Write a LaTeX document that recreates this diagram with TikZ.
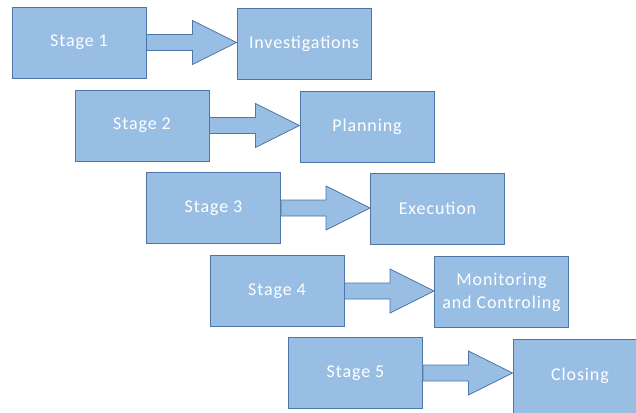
\documentclass[tikz,border=0pt]{standalone}
\usepackage{fontspec}
\setmainfont{Carlito}[LetterSpace=5]
\usetikzlibrary{calc}
\definecolor{boxfill}{RGB}{152,190,228}
\definecolor{boxline}{RGB}{78,118,168}
\tikzset{
  stagebox/.style={draw=boxline, fill=boxfill, line width=0.9pt,
    minimum width=134pt, minimum height=71pt, inner sep=0pt,
    text=white, font=\fontsize{18}{23}\selectfont, align=center},
  blockarrow/.style={draw=boxline, fill=boxfill, line width=0.8pt, line join=miter}
}
% block arrow from the right side of #1 to the left side of #2
\newcommand{\blockarrow}[2]{%
  \path[blockarrow] let \p1=(#1.east), \p2=(#2.west) in
    (\x1,\y1+8pt) -- (\x2-44pt,\y1+8pt) -- (\x2-44pt,\y1+22pt) --
    (\x2,\y1) -- (\x2-44pt,\y1-22pt) -- (\x2-44pt,\y1-8pt) --
    (\x1,\y1-8pt) -- cycle;}
\begin{document}
\begin{tikzpicture}[x=1pt,y=-1pt]
  \useasboundingbox (0,0) rectangle (636,412);
  \clip (0,0) rectangle (636,412);
  \fill[white] (0,0) rectangle (636,412);
  \node[stagebox] (s1) at (79,42.5) {Stage 1};
  \node[stagebox] (t1) at (304,44) {Investigations};
  \node[stagebox] (s2) at (142,125.5) {Stage 2};
  \node[stagebox] (t2) at (367,127) {Planning};
  \node[stagebox] (s3) at (213.5,208) {Stage 3};
  \node[stagebox] (t3) at (437.5,208.5) {Execution};
  \node[stagebox] (s4) at (277,291) {Stage 4};
  \node[stagebox] (t4) at (501.5,292) {Monitoring\\and Controling};
  \node[stagebox] (s5) at (355.5,373) {Stage 5};
  \node[stagebox, minimum height=74pt] (t5) at (580,376) {Closing};
  \blockarrow{s1}{t1}
  \blockarrow{s2}{t2}
  \blockarrow{s3}{t3}
  \blockarrow{s4}{t4}
  \blockarrow{s5}{t5}
\end{tikzpicture}
\end{document}
